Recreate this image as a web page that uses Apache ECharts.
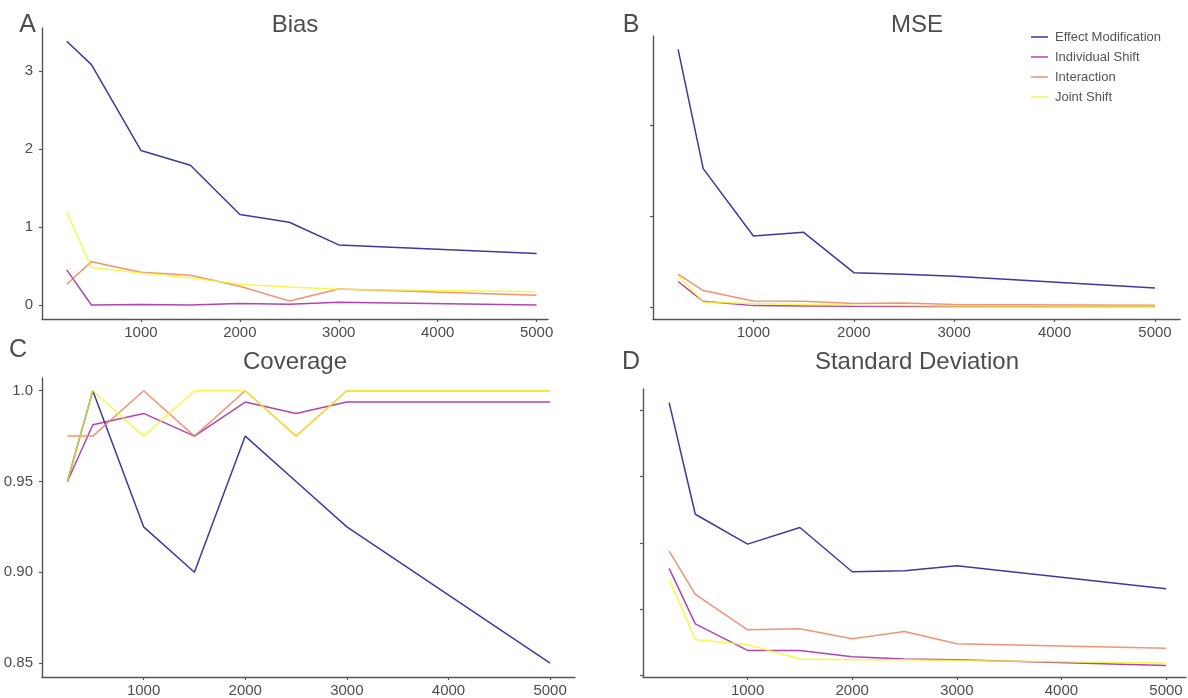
<!DOCTYPE html>
<html>
<head>
<meta charset="utf-8">
<script src="https://cdn.jsdelivr.net/npm/echarts@6/dist/echarts.min.js"></script>
<style>
  html, body { margin: 0; padding: 0; background: #fff; }
  #chart { width: 1188px; height: 698px; }
</style>
</head>
<body>
<div id="chart"></div>
<script>
// sample sizes on the x axis
var sampleSizes = [250, 500, 1000, 1500, 2000, 2500, 3000, 5000];
var seriesNames = ['Effect Modification', 'Individual Shift', 'Interaction', 'Joint Shift'];

// Bias
var biasEffect = [3.38, 3.08, 1.98, 1.79, 1.16, 1.06, 0.77, 0.66];
var biasIndividual = [0.45, 0.0, 0.005, 0.0, 0.02, 0.01, 0.035, 0.0];
var biasInteraction = [0.265, 0.555, 0.42, 0.38, 0.24, 0.05, 0.205, 0.125];
var biasJoint = [1.19, 0.48, 0.41, 0.35, 0.265, 0.23, 0.20, 0.17];

// MSE (no tick labels shown, values in tick units)
var mseEffect = [2.83, 1.52, 0.78, 0.82, 0.377, 0.36, 0.337, 0.21];
var mseIndividual = [0.28, 0.062, 0.015, 0.011, 0.007, 0.006, 0.005, 0.004];
var mseInteraction = [0.36, 0.18, 0.066, 0.062, 0.037, 0.044, 0.026, 0.018];
var mseJoint = [0.35, 0.055, 0.037, 0.026, 0.018, 0.015, 0.012, 0.007];

// Coverage
var covEffect = [0.95, 1.0, 0.925, 0.9, 0.975, 0.95, 0.925, 0.85];
var covIndividual = [0.95, 0.98125, 0.9875, 0.975, 0.99375, 0.9875, 0.99375, 0.99375];
var covInteraction = [0.975, 0.975, 1.0, 0.975, 1.0, 0.975, 1.0, 1.0];
var covJoint = [0.95, 1.0, 0.975, 1.0, 1.0, 0.975, 1.0, 1.0];

// Standard deviation (no tick labels shown, values in tick units)
var sdEffect = [4.11, 2.43, 1.98, 2.23, 1.565, 1.58, 1.655, 1.31];
var sdIndividual = [1.615, 0.78, 0.38, 0.38, 0.285, 0.25, 0.24, 0.155];
var sdInteraction = [1.875, 1.225, 0.69, 0.705, 0.555, 0.665, 0.48, 0.415];
var sdJoint = [1.45, 0.545, 0.465, 0.25, 0.24, 0.24, 0.23, 0.19];

// tick labels
var xTicks = [1000, 2000, 3000, 4000, 5000];
var biasTicks = [0, 1, 2, 3];
var biasTickLabels = ['0', '1', '2', '3'];
var mseTicks = [0, 1, 2];
var covTicks = [0.85, 0.90, 0.95, 1.0];
var covTickLabels = ['0.85', '0.90', '0.95', '1.0'];
var sdTicks = [0, 1, 2, 3, 4];

var colors = ['#0D0887', '#9C179E', '#ED7953', '#F0F921'];
var grey = '#4d4d4d';
var font = 'Liberation Sans, Arial, Helvetica, sans-serif';

var chart = echarts.init(document.getElementById('chart'));

function pairs(ys) {
  return sampleSizes.map(function (x, i) { return [x, ys[i]]; });
}

function xAxis(idx, max) {
  return {
    type: 'value', gridIndex: idx, min: 0, max: max,
    splitLine: { show: false },
    axisLine: { onZero: false, lineStyle: { color: '#555', width: 1.4 } },
    axisTick: { customValues: xTicks, length: 3, lineStyle: { color: '#555', width: 1.2 } },
    axisLabel: {
      customValues: xTicks, margin: 6, fontSize: 15, color: grey, fontFamily: font,
      formatter: function (v) { return String(v); }
    }
  };
}

function yAxis(idx, min, max, ticks, labels) {
  return {
    type: 'value', gridIndex: idx, min: min, max: max,
    splitLine: { show: false },
    axisLine: { onZero: false, lineStyle: { color: '#555', width: 1.4 } },
    axisTick: { customValues: ticks, length: 3, lineStyle: { color: '#555', width: 1.2 } },
    axisLabel: {
      show: !!labels, customValues: ticks, margin: 9, fontSize: 15, color: grey, fontFamily: font,
      formatter: function (v) {
        if (!labels) return '';
        for (var i = 0; i < ticks.length; i++) {
          if (Math.abs(ticks[i] - v) < 1e-6) return labels[i];
        }
        return '';
      }
    }
  };
}

var panels = [
  [biasEffect, biasIndividual, biasInteraction, biasJoint],
  [mseEffect, mseIndividual, mseInteraction, mseJoint],
  [covEffect, covIndividual, covInteraction, covJoint],
  [sdEffect, sdIndividual, sdInteraction, sdJoint]
];

var series = [];
panels.forEach(function (p, gi) {
  p.forEach(function (ys, si) {
    series.push({
      name: seriesNames[si], type: 'line', xAxisIndex: gi, yAxisIndex: gi,
      data: pairs(ys), showSymbol: false, silent: true,
      lineStyle: { color: colors[si], width: 1.5, opacity: 0.8 },
      itemStyle: { color: colors[si], opacity: 0.8 }
    });
  });
});

function label(text, x, y, size) {
  return {
    type: 'text', x: x, y: y,
    style: { text: text, fill: grey, font: size + 'px ' + font, textAlign: 'center', textVerticalAlign: 'middle' }
  };
}

chart.setOption({
  animation: false,
  grid: [
    { left: 42, top: 28, width: 506, height: 291 },
    { left: 653, top: 36, width: 527, height: 283 },
    { left: 42, top: 378, width: 533, height: 299 },
    { left: 643, top: 389, width: 543, height: 289 }
  ],
  xAxis: [xAxis(0, 5115), xAxis(1, 5249), xAxis(2, 5245), xAxis(3, 5191)],
  yAxis: [
    yAxis(0, -0.18, 3.55, biasTicks, biasTickLabels),
    yAxis(1, -0.132, 2.978, mseTicks, null),
    yAxis(2, 0.84229, 1.007, covTicks, covTickLabels),
    yAxis(3, -0.0195, 4.315, sdTicks, null)
  ],
  legend: {
    data: seriesNames, orient: 'vertical', left: 1026, top: 25,
    icon: 'rect', itemWidth: 17, itemHeight: 1.5, itemGap: 6,
    textStyle: { fontSize: 13, color: '#555', fontFamily: font, lineHeight: 14, padding: [0, 0, 0, 2] },
    selectedMode: false
  },
  graphic: [
    label('A', 27.5, 25, 25), label('Bias', 295, 25, 24),
    label('B', 631, 25, 25), label('MSE', 917, 25, 24),
    label('C', 18, 350, 25), label('Coverage', 295, 362, 24),
    label('D', 631, 362, 25), label('Standard Deviation', 917, 362, 24)
  ],
  series: series
});
</script>
</body>
</html>
